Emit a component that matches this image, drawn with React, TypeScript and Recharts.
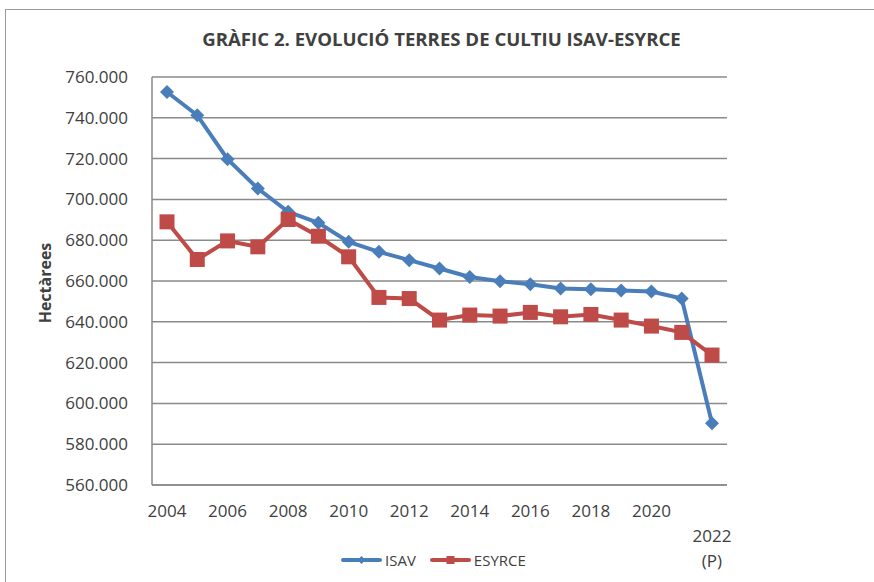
import * as React from "react";
import { CartesianGrid, Line, LineChart, XAxis, YAxis } from "recharts";

const YEARS = [
  "2004", "2005", "2006", "2007", "2008", "2009", "2010", "2011", "2012", "2013",
  "2014", "2015", "2016", "2017", "2018", "2019", "2020", "2021", "2022",
];
const ISAV = [
  752650, 741240, 719700, 705350, 693900, 688500, 679200, 674300, 670200, 666150,
  662000, 659900, 658450, 656350, 656000, 655300, 654800, 651450, 590250,
];
const ESYRCE = [
  689000, 670550, 679650, 676750, 690150, 681950, 671850, 651950, 651400, 640850,
  643300, 642800, 644600, 642450, 643600, 640850, 637900, 634800, 623700,
];
const Y_TICKS = [560000, 580000, 600000, 620000, 640000, 660000, 680000, 700000, 720000, 740000, 760000];

const FONT = "'Open Sans', sans-serif";
const TEXT = "#404040";
const GRIDC = "#8a8a8a";
const BLUE = "#4a7ebb";
const RED = "#be4b48";

const data = YEARS.map((year, i) => ({ year, isav: ISAV[i], esyrce: ESYRCE[i] }));

const fmt = (v: number) => v.toString().replace(/\B(?=(\d{3})+(?!\d))/g, ".");

function Diamond({ cx, cy, index }: any) {
  if (cx == null || cy == null) return <g key={index} />;
  const r = 7;
  return (
    <path
      key={index}
      d={`M${cx},${cy - r}L${cx + r},${cy}L${cx},${cy + r}L${cx - r},${cy}Z`}
      fill={BLUE}
    />
  );
}

function Square({ cx, cy, index }: any) {
  if (cx == null || cy == null) return <g key={index} />;
  const h = 7.5;
  return <rect key={index} x={cx - h} y={cy - h} width={h * 2} height={h * 2} fill={RED} />;
}

function YearTick({ x, y, payload }: any) {
  const v = String(payload.value);
  const style = { fill: TEXT, fontSize: 17, fontFamily: FONT };
  if (v === "2022") {
    return (
      <text textAnchor="middle" style={style}>
        <tspan x={x} y={y + 49}>2022</tspan>
        <tspan x={x} y={y + 74}>(P)</tspan>
      </text>
    );
  }
  if (Number(v) % 2 !== 0) return <g />;
  return (
    <text x={x} y={y + 24} textAnchor="middle" style={style}>
      {v}
    </text>
  );
}

function YLabel({ viewBox }: any) {
  const cx = 45;
  const cy = viewBox.y + viewBox.height / 2 + 2;
  return (
    <text
      x={cx}
      y={cy}
      transform={`rotate(-90 ${cx} ${cy})`}
      textAnchor="middle"
      dominantBaseline="central"
      style={{ fill: TEXT, fontSize: 16, fontWeight: 700, fontFamily: FONT }}
    >
      Hectàrees
    </text>
  );
}

function LegendItem({ color, label, square }: { color: string; label: string; square?: boolean }) {
  return (
    <div style={{ display: "flex", alignItems: "center", gap: 3 }}>
      <svg width={41} height={14}>
        <line x1={2} y1={7} x2={39} y2={7} stroke={color} strokeWidth={4} strokeLinecap="round" />
        {square ? (
          <rect x={16.5} y={3} width={8} height={8} fill={color} />
        ) : (
          <path d="M20.5,3L24.5,7L20.5,11L16.5,7Z" fill={color} />
        )}
      </svg>
      <span>{label}</span>
    </div>
  );
}

export default function App() {
  return (
    <div
      style={{
        position: "absolute",
        left: 0,
        top: 0,
        width: 874,
        height: 582,
        overflow: "hidden",
        background: "#fff",
        fontFamily: FONT,
        color: TEXT,
      }}
    >
      <div
        style={{
          position: "absolute",
          left: 5,
          top: 9,
          width: 900,
          height: 600,
          border: "1.5px solid #9a9a9a",
        }}
      />
      <div
        style={{
          position: "absolute",
          left: 150,
          width: 583,
          top: 26,
          textAlign: "center",
          fontSize: 18.6,
          fontWeight: 700,
          whiteSpace: "nowrap",
        }}
      >
        GRÀFIC 2. EVOLUCIÓ TERRES DE CULTIU ISAV-ESYRCE
      </div>
      <div style={{ position: "absolute", left: 0, top: 0 }}>
        <LineChart
          width={874}
          height={582}
          data={data}
          margin={{ top: 77, right: 147, bottom: 67, left: 72 }}
        >
          <CartesianGrid horizontal vertical={false} stroke={GRIDC} strokeWidth={1.5} />
          <XAxis
            dataKey="year"
            interval={0}
            height={30}
            padding={{ left: 15, right: 15 }}
            tickLine={false}
            axisLine={{ stroke: GRIDC, strokeWidth: 1.5 }}
            tick={<YearTick />}
          />
          <YAxis
            width={80}
            domain={[560000, 760000]}
            ticks={Y_TICKS}
            interval={0}
            tickLine={false}
            tickMargin={18}
            axisLine={{ stroke: GRIDC, strokeWidth: 1.5 }}
            tickFormatter={fmt}
            tick={{ fill: TEXT, fontSize: 17, fontFamily: FONT }}
            label={<YLabel />}
          />
          <Line
            dataKey="isav"
            name="ISAV"
            stroke={BLUE}
            strokeWidth={4}
            dot={Diamond}
            activeDot={false}
            isAnimationActive={false}
          />
          <Line
            dataKey="esyrce"
            name="ESYRCE"
            stroke={RED}
            strokeWidth={4}
            dot={Square}
            activeDot={false}
            isAnimationActive={false}
          />
        </LineChart>
      </div>
      <div
        style={{
          position: "absolute",
          left: 341,
          top: 550,
          display: "flex",
          gap: 14,
          fontSize: 15,
        }}
      >
        <LegendItem color={BLUE} label="ISAV" />
        <LegendItem color={RED} label="ESYRCE" square />
      </div>
    </div>
  );
}
